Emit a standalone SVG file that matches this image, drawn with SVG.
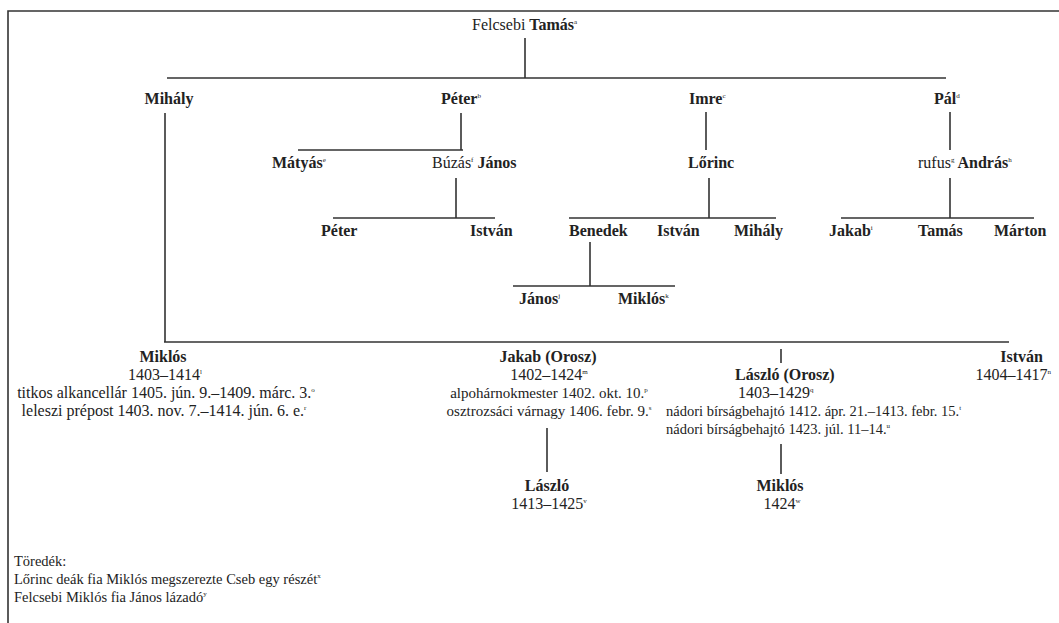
<svg xmlns="http://www.w3.org/2000/svg" width="1059" height="623" viewBox="0 0 1059 623">
<style>
text{font-family:"Liberation Serif","Tinos","DejaVu Serif",serif;font-size:16px;fill:#222}
.b{font-weight:bold}
.m{text-anchor:middle}
.e{text-anchor:end}
.f{font-size:14.5px}
.g{font-size:15px}
.s{font-size:7px;font-weight:normal}
.ln{stroke:#333;stroke-width:1.6;fill:none}
</style>
<rect width="1059" height="623" fill="#fff"/>
<path class="ln" d="M8 623 V11 H1059" stroke-width="2.2"/>
<g id="connectors">
<path class="ln" d="M525 38 V78 M167 78 H946"/>
<path class="ln" d="M461 113 V150 M298 150 H463"/>
<path class="ln" d="M456 178 V218 M333 218 H495"/>
<path class="ln" d="M706 112 V150"/>
<path class="ln" d="M709 178 V218 M569 218 H776"/>
<path class="ln" d="M590 242 V286 M513 286 H675"/>
<path class="ln" d="M950 112 V150 M950 178 V218 M841 218 H1034"/>
<path class="ln" d="M165 113 V342 M164 342 H1009"/>
<path class="ln" d="M781 349 V363"/>
<path class="ln" d="M547 428 V472"/>
<path class="ln" d="M781 444 V474"/>
</g>
<g id="tamas"><text x="472" y="30">Felcsebi <tspan class="b">Tamás</tspan><tspan class="s" dy="-6">a</tspan></text></g>
<g id="mihaly"><text class="b m" x="169" y="104">Mihály</text></g>
<g id="peter"><text class="b" x="441" y="104">Péter<tspan class="s" dy="-6">b</tspan></text></g>
<g id="imre"><text class="b" x="689" y="104">Imre<tspan class="s" dy="-6">c</tspan></text></g>
<g id="pal"><text class="b" x="934" y="104">Pál<tspan class="s" dy="-6">d</tspan></text></g>
<g id="matyas"><text class="b" x="272" y="168">Mátyás<tspan class="s" dy="-6">e</tspan></text></g>
<g id="buzas-janos"><text x="432" y="168">Búzás<tspan class="s" dy="-6">f</tspan><tspan class="b" dy="6"> János</tspan></text></g>
<g id="lorinc"><text class="b" x="688" y="168">Lőrinc</text></g>
<g id="rufus-andras"><text x="918" y="168">rufus<tspan class="s" dy="-6">g</tspan><tspan class="b" dy="6"> András</tspan><tspan class="s" dy="-6">h</tspan></text></g>
<g id="peter2"><text class="b" x="321" y="236">Péter</text></g>
<g id="istvan1"><text class="b" x="470" y="236">István</text></g>
<g id="benedek"><text class="b" x="569" y="236">Benedek</text></g>
<g id="istvan2"><text class="b" x="657" y="236">István</text></g>
<g id="mihaly2"><text class="b" x="734" y="236">Mihály</text></g>
<g id="jakab"><text class="b" x="829" y="236">Jakab<tspan class="s" dy="-6">i</tspan></text></g>
<g id="tamas2"><text class="b" x="918" y="236">Tamás</text></g>
<g id="marton"><text class="b" x="994" y="236">Márton</text></g>
<g id="janos2"><text class="b" x="519" y="304">János<tspan class="s" dy="-6">j</tspan></text></g>
<g id="miklos2"><text class="b" x="618" y="304">Miklós<tspan class="s" dy="-6">k</tspan></text></g>
<g id="miklos3">
<text class="b m" x="163" y="362">Miklós</text>
<text class="m" x="165" y="380">1403–1414<tspan class="s" dy="-6">l</tspan></text>
<text class="m" x="166" y="398">titkos alkancellár 1405. jún. 9.–1409. márc. 3.<tspan class="s" dy="-6">o</tspan></text>
<text class="m" x="164" y="416">leleszi prépost 1403. nov. 7.–1414. jún. 6. e.<tspan class="s" dy="-6">r</tspan></text>
</g>
<g id="jakab-orosz">
<text class="b m" x="548" y="362">Jakab (Orosz)</text>
<text class="m" x="549" y="380">1402–1424<tspan class="s" dy="-6">m</tspan></text>
<text class="m g" x="549" y="398">alpohárnokmester 1402. okt. 10.<tspan class="s" dy="-6">p</tspan></text>
<text class="m g" x="549" y="416">osztrozsáci várnagy 1406. febr. 9.<tspan class="s" dy="-6">s</tspan></text>
</g>
<g id="istvan3">
<text class="b e" x="1043" y="362">István</text>
<text class="e" x="1051" y="380">1404–1417<tspan class="s" dy="-6">n</tspan></text>
</g>
<g id="laszlo-orosz">
<text class="b" x="735" y="380">László (Orosz)</text>
<text x="738" y="398">1403–1429<tspan class="s" dy="-6">q</tspan></text>
<text class="f" x="666" y="416">nádori bírságbehajtó 1412. ápr. 21.–1413. febr. 15.<tspan class="s" dy="-6">t</tspan></text>
<text class="f" x="666" y="434">nádori bírságbehajtó 1423. júl. 11–14.<tspan class="s" dy="-6">u</tspan></text>
</g>
<g id="laszlo">
<text class="b m" x="547" y="491">László</text>
<text class="m" x="549" y="509">1413–1425<tspan class="s" dy="-6">v</tspan></text>
</g>
<g id="miklos4">
<text class="b m" x="780" y="491">Miklós</text>
<text class="m" x="782" y="509">1424<tspan class="s" dy="-6">w</tspan></text>
</g>
<g id="toredek">
<text class="f" x="14" y="566">Töredék:</text>
<text class="f" x="14" y="584">Lőrinc deák fia Miklós megszerezte Cseb egy részét<tspan class="s" dy="-6">x</tspan></text>
<text class="f" x="14" y="602">Felcsebi Miklós fia János lázadó<tspan class="s" dy="-6">y</tspan></text>
</g>
</svg>
